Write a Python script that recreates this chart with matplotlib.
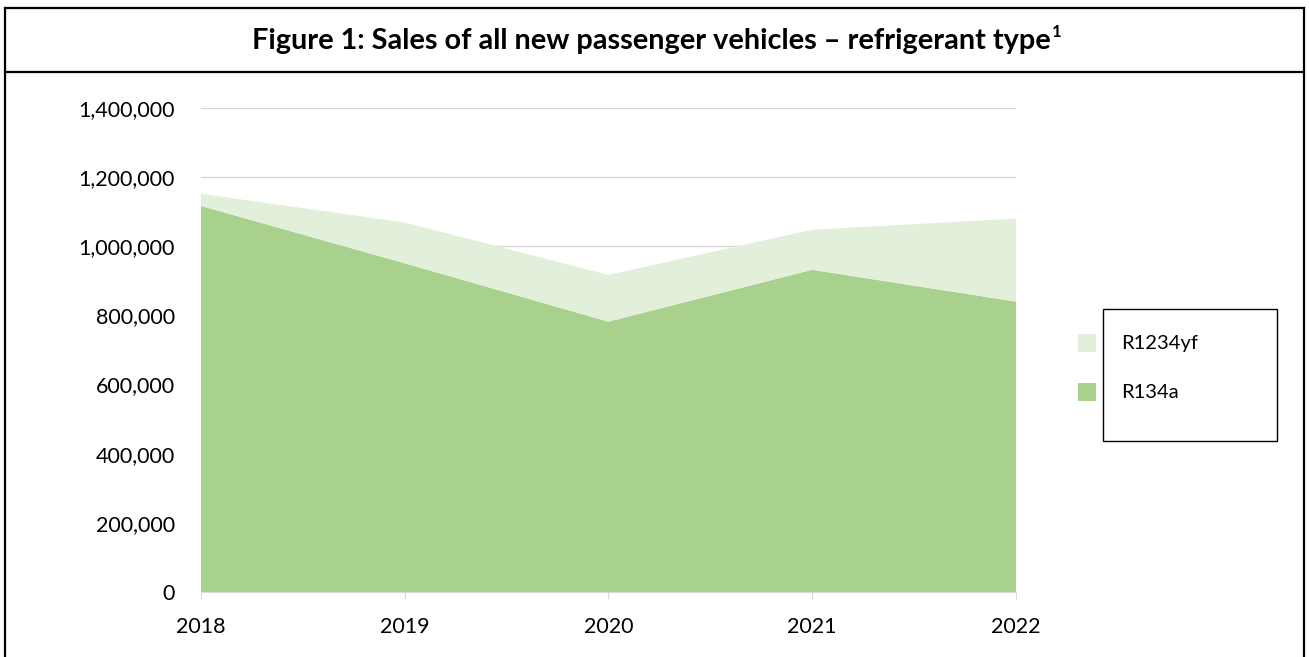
import matplotlib.pyplot as plt
from matplotlib.patches import Rectangle
from matplotlib.lines import Line2D
from matplotlib.ticker import FuncFormatter

# Chart data
years = [2018, 2019, 2020, 2021, 2022]
r134a = [1117000, 951000, 782000, 932000, 840000]
r1234yf = [35000, 118000, 135000, 116000, 240000]
series_names = ['R134a', 'R1234yf']
colors = ['#A9D18E', '#E2EFDA']
title = 'Figure 1: Sales of all new passenger vehicles \u2013 refrigerant type'

plt.rcParams['font.family'] = ['Lato', 'DejaVu Sans']

fig = plt.figure(figsize=(13.09, 6.57), dpi=100)
W, H = 1309, 657

ax = fig.add_axes([200.7 / W, (H - 592) / H, (1016 - 200.7) / W, (592 - 108) / H])
ax.stackplot(years, r134a, r1234yf, colors=colors, labels=series_names, lw=0)

ax.set_xlim(2018, 2022)
ax.set_ylim(0, 1400000)
ax.set_yticks(range(0, 1400001, 200000))
ax.set_xticks(years)
ax.yaxis.set_major_formatter(FuncFormatter(lambda v, p: f'{int(v):,}'))
ax.grid(axis='y', color='#D9D9D9', lw=1)
ax.set_axisbelow(True)
for s in ['top', 'right', 'left']:
    ax.spines[s].set_visible(False)
ax.spines['bottom'].set_color('#D9D9D9')
ax.spines['bottom'].set_zorder(5)
ax.tick_params(axis='y', length=0, pad=18.5, labelsize=15.5, colors='black')
ax.tick_params(axis='x', length=5, color='#D9D9D9', pad=13, labelsize=15.5)

# Outer frame and title box
frame = dict(transform=fig.transFigure, color='black', lw=1.6)
fig.add_artist(Line2D([5 / W, 1304 / W], [1 - 8 / H, 1 - 8 / H], **frame))
fig.add_artist(Line2D([5 / W, 1304 / W], [1 - 72 / H, 1 - 72 / H], **frame))
fig.add_artist(Line2D([5 / W, 5 / W], [0, 1 - 8 / H], **frame))
fig.add_artist(Line2D([1304 / W, 1304 / W], [0, 1 - 8 / H], **frame))

t = fig.text(651 / W, 1 - 41 / H, title, ha='center', va='center',
             fontsize=20.8, fontweight='bold')
fig.canvas.draw()
bb = t.get_window_extent()
fig.text(bb.x1 / W + 1 / W, 1 - 32 / H, '1', ha='left', va='center',
         fontsize=12, fontweight='bold')

# Legend: frame with swatches hanging outside of it
fig.add_artist(Rectangle((1103 / W, 1 - 441 / H), 174 / W, 132 / H,
                         transform=fig.transFigure, fill=False, ec='black', lw=1))
for i, (name, c) in enumerate(zip(series_names[::-1], colors[::-1])):
    yc = 343 + i * 49
    fig.add_artist(Rectangle((1078 / W, 1 - (yc + 9) / H), 18 / W, 18 / H,
                             transform=fig.transFigure, color=c, lw=0))
    fig.text(1121 / W, 1 - yc / H, name, ha='left', va='center', fontsize=14.5)

fig.savefig('out.png', dpi=100)
